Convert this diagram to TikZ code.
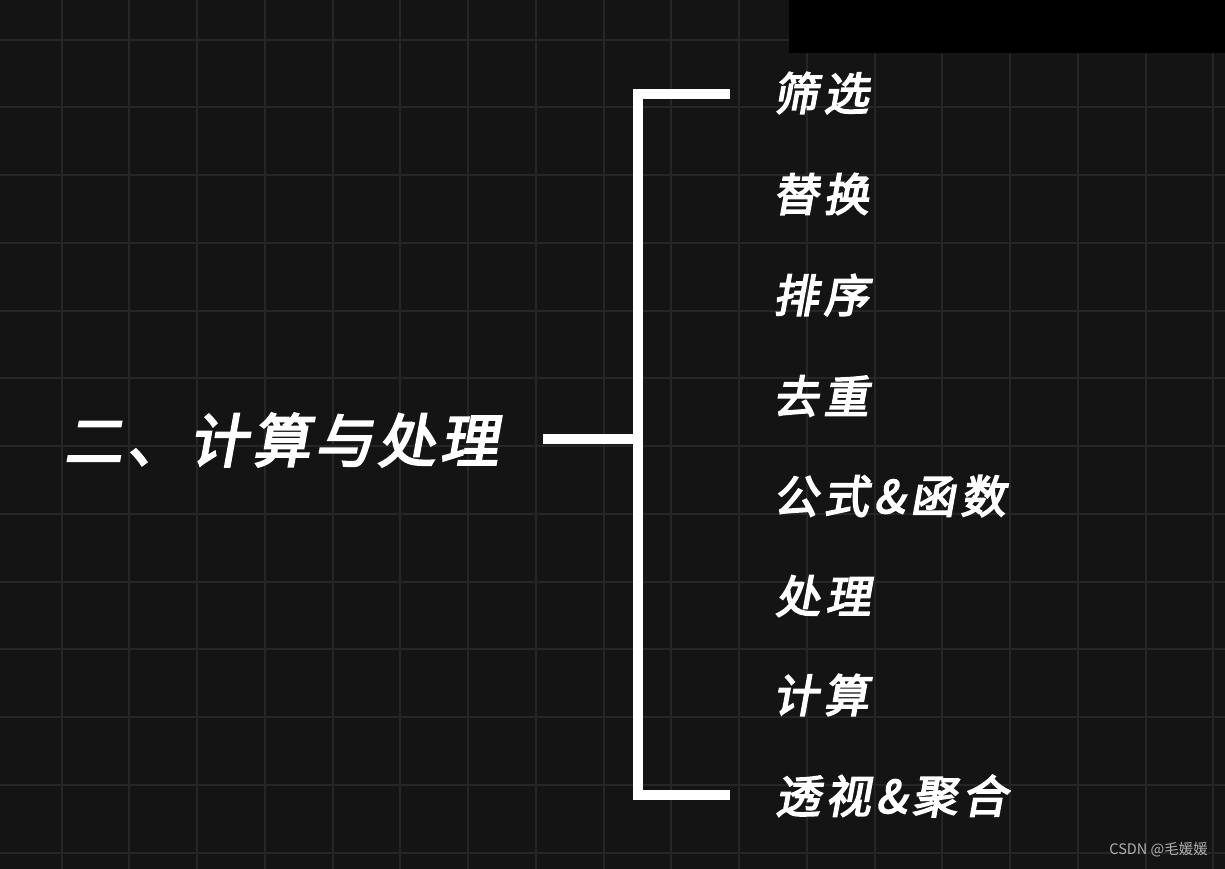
\documentclass[tikz,border=0pt]{standalone}
\usepackage{fontspec}
\newfontfamily\cjk{Noto Sans CJK SC}[FakeSlant=0.18,FakeBold=3.5,LetterSpace=12]
\newfontfamily\cjkt{Noto Sans CJK SC}[FakeSlant=0.18,FakeBold=3.5,LetterSpace=8]
\newfontfamily\cjkplain{Noto Sans CJK SC}
\definecolor{bgc}{HTML}{141414}
\definecolor{gridc}{HTML}{262626}
\definecolor{wmc}{HTML}{B0B0B0}
\tikzset{
  item/.style={anchor=west,inner sep=0pt,text=white,font=\cjk\fontsize{45}{45}\selectfont},
  title/.style={anchor=west,inner sep=0pt,text=white,font=\cjkt\fontsize{58}{58}\selectfont},
  bar/.style={draw=white,line width=10.5pt},
}
\begin{document}
\begin{tikzpicture}[x=1pt,y=-1pt]
\useasboundingbox (0,0) rectangle (1225,868);
\fill[bgc] (-10,-10) rectangle (1235,878);
\foreach \i in {0,...,17} {
  \draw[gridc,line width=2pt] ({61.5+67.75*\i},-10) -- ({61.5+67.75*\i},878);
}
\foreach \j in {0,...,12} {
  \draw[gridc,line width=2pt] (-10,{39.5+67.75*\j}) -- (1235,{39.5+67.75*\j});
}
\fill[black] (789,-10) rectangle (1235,53);
\node[title] (t) at (64,440) {二、计算与处理};
\coordinate (ls) at (543,439);
\coordinate (lm) at (638,439);
\coordinate (top) at (638,94);
\coordinate (bot) at (638,795);
\coordinate (te) at (725,94);
\coordinate (be) at (725,795);
\draw[bar] (ls) -- (lm);
\draw[bar,line cap=rect] (te) -- (top) -- (bot) -- (be);
\node[item] (a1) at (773,93) {筛选};
\node[item] (a2) at (773,194) {替换};
\node[item] (a3) at (773,295) {排序};
\node[item] (a4) at (773,396) {去重};
\node[item] (a5) at (773,496) {公式\&函数};
\node[item] (a6) at (775,596) {处理};
\node[item] (a7) at (773,695) {计算};
\node[item] (a8) at (775,796) {透视\&聚合};
\node[anchor=east,inner sep=0pt,text=wmc,font=\cjkplain\fontsize{14.5}{14.5}\selectfont] (wm) at (1208,850) {CSDN @毛媛媛};
\end{tikzpicture}
\end{document}
